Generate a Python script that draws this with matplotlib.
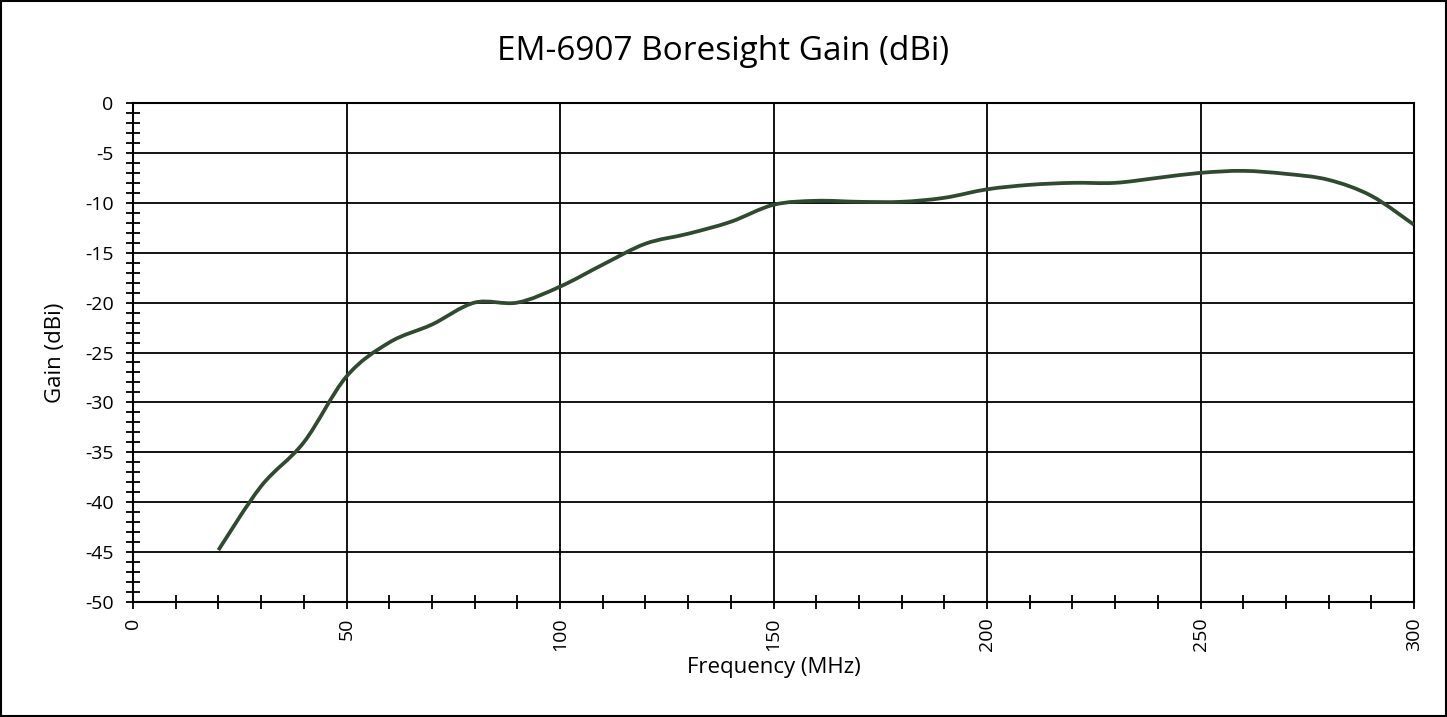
import numpy as np
import matplotlib
matplotlib.use('Agg')
import matplotlib.pyplot as plt
from matplotlib.path import Path
from matplotlib.patches import PathPatch, Rectangle
from matplotlib.ticker import MultipleLocator

# boresight gain
freq = [20, 30, 40, 50, 60, 70, 80, 90, 100, 110, 120, 130, 140, 150, 160,
        170, 180, 190, 200, 210, 220, 230, 240, 250, 260, 270, 280, 290, 300]
gain = [-44.8, -38.4, -34.0, -27.4, -24.0, -22.2, -20.0, -20.0, -18.4, -16.2,
        -14.1, -13.1, -11.9, -10.2, -9.8, -9.9, -9.9, -9.5, -8.65, -8.2,
        -8.0, -8.0, -7.5, -7.0, -6.8, -7.1, -7.7, -9.3, -12.2]

xticks = [0, 50, 100, 150, 200, 250, 300]
yticks = [0, -5, -10, -15, -20, -25, -30, -35, -40, -45, -50]

plt.rcParams['font.family'] = ['Open Sans', 'DejaVu Sans']
plt.rcParams['axes.unicode_minus'] = False

fig = plt.figure(figsize=(14.47, 7.17), dpi=100)
ax = fig.add_axes([133/1447, 1-602/717, (1414-133)/1447, (602-103)/717])

# smooth line like a spreadsheet "smoothed" series: cubic bezier through points
x = np.array(freq, dtype=float)
y = np.array(gain, dtype=float)
verts = [(x[0], y[0])]
codes = [Path.MOVETO]
n = len(x)
for i in range(n - 1):
    p0 = i - 1 if i > 0 else i
    p3 = i + 2 if i + 2 < n else i + 1
    c1 = (x[i] + (x[i+1] - x[p0]) / 6, y[i] + (y[i+1] - y[p0]) / 6)
    c2 = (x[i+1] - (x[p3] - x[i]) / 6, y[i+1] - (y[p3] - y[i]) / 6)
    verts += [c1, c2, (x[i+1], y[i+1])]
    codes += [Path.CURVE4] * 3
ax.add_patch(PathPatch(Path(verts, codes), fill=False, edgecolor='#2f4a2f',
                       lw=2.7, capstyle='butt', zorder=3))

ax.set_xlim(0, 300)
ax.set_ylim(-50, 0)
ax.set_xticks(xticks)
ax.set_yticks(yticks)
ax.xaxis.set_minor_locator(MultipleLocator(10))
ax.yaxis.set_minor_locator(MultipleLocator(1))
ax.grid(True, which='major', color='black', lw=1.3)
ax.tick_params(which='major', direction='out', length=5, width=1.3, labelsize=14)
ax.tick_params(which='minor', direction='inout', length=10, width=1.3)
ax.tick_params(axis='x', labelrotation=90, pad=6)
ax.tick_params(axis='y', pad=9)
for s in ax.spines.values():
    s.set_linewidth(1.5)
    s.set_color('black')

ax.set_xlabel('Frequency (MHz)', fontsize=16)
ax.xaxis.set_label_coords(0.5, (602 - 668) / 499)
ax.xaxis.label.set_va('center')
ax.set_ylabel('Gain (dBi)', fontsize=16)
ax.yaxis.set_label_coords((56 - 133) / 1281, 0.5)
ax.yaxis.label.set_va('center')
fig.text(0.5, 1 - 52/717, 'EM-6907 Boresight Gain (dBi)', ha='center', va='center', fontsize=24)

fig.patches.append(Rectangle((0.001, 0.0015), 0.998, 0.997, transform=fig.transFigure,
                             fill=False, edgecolor='black', lw=1.5))

fig.savefig('out.png', dpi=100)
